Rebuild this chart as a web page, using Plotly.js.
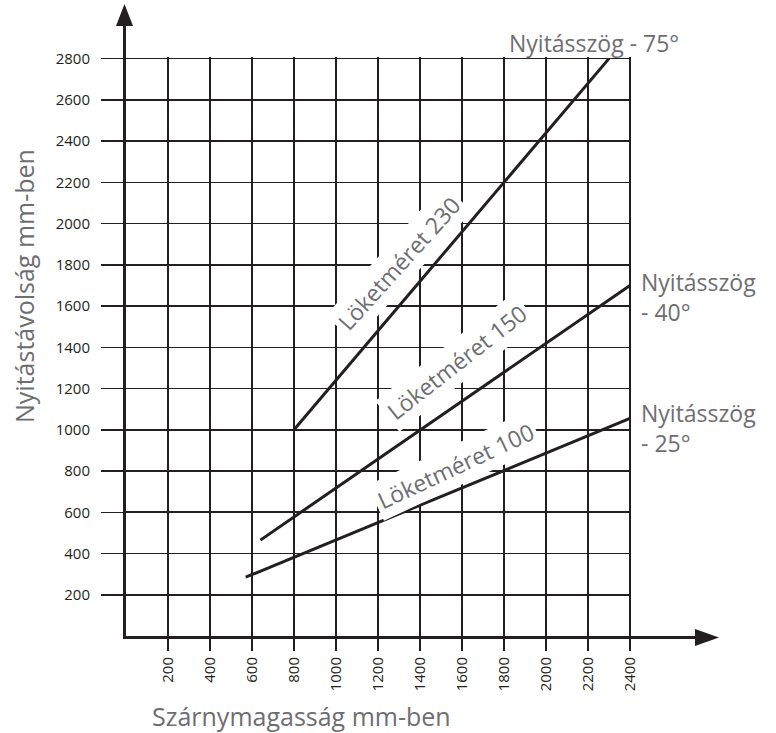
<!DOCTYPE html>
<html>
<head>
<meta charset="utf-8">
<script src="https://cdn.plot.ly/plotly-3.0.1.min.js"></script>
<style>html,body{margin:0;padding:0;background:#fff;}#chart{width:776px;height:733px;}</style>
</head>
<body>
<div id="chart"></div>
<script>
// Data
const xTicks = [200, 400, 600, 800, 1000, 1200, 1400, 1600, 1800, 2000, 2200, 2400];
const yTicks = [200, 400, 600, 800, 1000, 1200, 1400, 1600, 1800, 2000, 2200, 2400, 2600, 2800];
const lineLabels = ['Löketméret 230', 'Löketméret 150', 'Löketméret 100'];
const angleLabels = ['Nyitásszög - 75°', 'Nyitásszög<br>- 40°', 'Nyitásszög<br>- 25°'];
const x230 = [800, 2300];
const y230 = [1000, 2800];
const x150 = [640, 1400, 2400];
const y150 = [465, 1000, 1700];
const x100 = [570, 1800, 2400];
const y100 = [285, 803, 1055];
const xTitle = 'Szárnymagasság mm-ben';
const yTitle = 'Nyitástávolság mm-ben';

const INK = '#231f20';
const GREY = '#6d6e71';
const FONT = 'Open Sans, Noto Sans, sans-serif';

const mkLine = (x, y, name) => ({
  x: x, y: y, type: 'scatter', mode: 'lines', name: name,
  line: {color: INK, width: 3}, hoverinfo: 'skip', showlegend: false
});

const traces = [
  mkLine(x230, y230, lineLabels[0]),
  mkLine(x150, y150, lineLabels[1]),
  mkLine(x100, y100, lineLabels[2])
];

// plot area pixel geometry
const L = 126, R = 631, T = 57, B = 636;
const px = v => (v - L) / (R - L);
const py = v => (B - v) / (B - T);
const AXX = L - 1.5, AXY = B + 1.5; // centre of the 3px axis lines

const annotations = [
  {x: 1300, y: 1810, xref: 'x', yref: 'y', text: lineLabels[0], textangle: -48, bgcolor: '#fff', borderpad: 3},
  {x: 1575, y: 1330, xref: 'x', yref: 'y', text: lineLabels[1], textangle: -38, bgcolor: '#fff', borderpad: 3},
  {x: 1567, y: 825, xref: 'x', yref: 'y', text: lineLabels[2], textangle: -25, bgcolor: '#fff', borderpad: 3},
  {x: px(507), y: py(43), xref: 'paper', yref: 'paper', text: angleLabels[0], xanchor: 'left', yanchor: 'middle', align: 'left', font: {family: FONT, size: 23, color: GREY}},
  {x: px(639), y: py(297), xref: 'paper', yref: 'paper', text: angleLabels[1], xanchor: 'left', yanchor: 'middle', align: 'left', font: {family: FONT, size: 23, color: GREY}},
  {x: px(639), y: py(428), xref: 'paper', yref: 'paper', text: angleLabels[2], xanchor: 'left', yanchor: 'middle', align: 'left', font: {family: FONT, size: 23, color: GREY}},
  {x: px(301), y: py(716), xref: 'paper', yref: 'paper', text: xTitle, xanchor: 'center', yanchor: 'middle', font: {family: FONT, size: 25, color: GREY}},
  {x: px(24), y: py(286), xref: 'paper', yref: 'paper', text: yTitle, textangle: -90, xanchor: 'center', yanchor: 'middle', font: {family: FONT, size: 25, color: GREY}}
].map(a => Object.assign({showarrow: false, font: {family: FONT, size: 23, color: GREY}}, a));

const shapes = [
  // y-axis arrow shaft + head
  {type: 'line', xref: 'paper', yref: 'paper', x0: px(AXX), x1: px(AXX), y0: 1, y1: py(22), line: {color: INK, width: 3}},
  {type: 'path', xref: 'paper', yref: 'paper',
   path: `M ${px(AXX)} ${py(4)} L ${px(AXX - 8.5)} ${py(26)} L ${px(AXX + 8.5)} ${py(26)} Z`,
   fillcolor: INK, line: {color: INK, width: 0}},
  // x-axis arrow shaft + head
  {type: 'line', xref: 'paper', yref: 'paper', x0: 1, x1: px(700), y0: py(AXY), y1: py(AXY), line: {color: INK, width: 3}},
  {type: 'path', xref: 'paper', yref: 'paper',
   path: `M ${px(719)} ${py(AXY)} L ${px(695)} ${py(AXY - 8.5)} L ${px(695)} ${py(AXY + 8.5)} Z`,
   fillcolor: INK, line: {color: INK, width: 0}}
];

const layout = {
  width: 776, height: 733,
  margin: {l: L, r: 776 - R, t: T, b: 733 - B, pad: 0},
  paper_bgcolor: '#fff', plot_bgcolor: '#fff',
  showlegend: false,
  font: {family: FONT, color: INK},
  xaxis: {
    range: [0, 2405], fixedrange: true,
    tickvals: xTicks, ticktext: xTicks.map(String),
    tickangle: -90, ticks: 'outside', ticklen: 12, tickwidth: 1.5, tickcolor: INK,
    tickfont: {family: FONT, size: 15, color: INK},
    showgrid: true, gridcolor: INK, gridwidth: 1.6,
    zeroline: false, showline: true, linecolor: INK, linewidth: 3
  },
  yaxis: {
    range: [0, 2808], fixedrange: true,
    tickvals: yTicks, ticktext: yTicks.map(String),
    ticks: 'outside', ticklen: 22, tickwidth: 1.5, tickcolor: INK,
    tickfont: {family: FONT, size: 15, color: INK},
    ticklabelstandoff: 8,
    showgrid: true, gridcolor: INK, gridwidth: 1.6,
    zeroline: false, showline: true, linecolor: INK, linewidth: 3
  },
  annotations: annotations,
  shapes: shapes
};

Plotly.newPlot('chart', traces, layout, {staticPlot: true, displayModeBar: false});
</script>
</body>
</html>
